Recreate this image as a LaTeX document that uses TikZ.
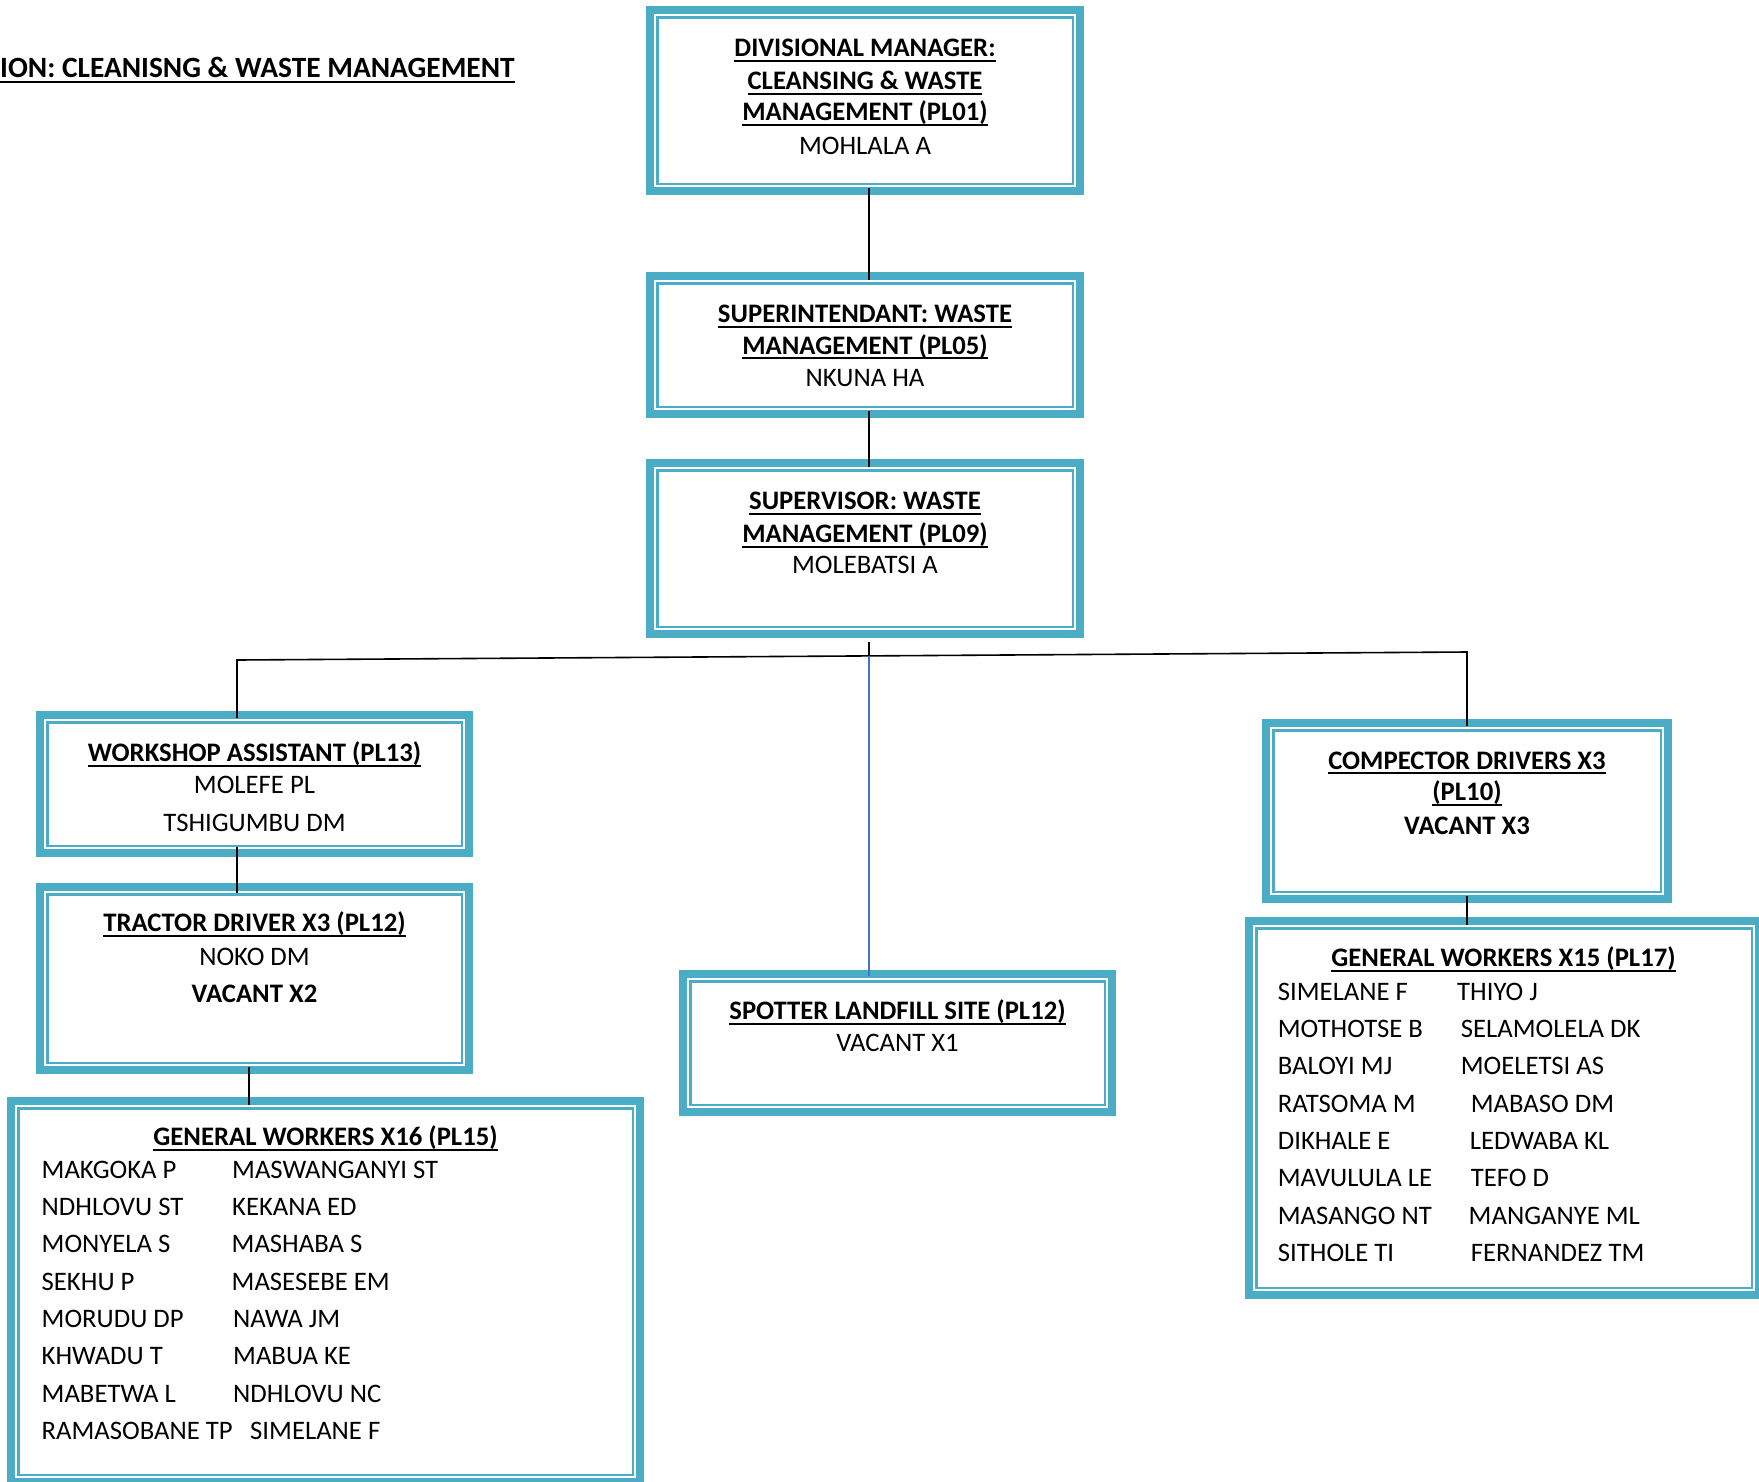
\documentclass[tikz,border=0pt]{standalone}
\usepackage{fontspec}
\setmainfont{Carlito}
\usetikzlibrary{calc}
\definecolor{teal5}{HTML}{4BACC6}
\definecolor{linkblue}{HTML}{4472C4}
\newcommand\fs{\fontsize{26.7}{32}\selectfont}
\newcommand\fst{\fontsize{29.4}{35}\selectfont}
\newcommand\ulin[1]{\setbox0=\hbox{#1}\rlap{\rule[-5pt]{\wd0}{2pt}}\box0}
\newcommand\obox[5]{%
  \pgfmathsetmacro\ow{#4-#2-8}\pgfmathsetmacro\oh{#5-#3-8}%
  \node[outerbox, minimum width=\ow pt, minimum height=\oh pt, anchor=north west] (#1) at (#2+4,#3+4) {};
  \draw[innerline] ($(#1.north west)+(7.25,7.25)$) rectangle ($(#1.south east)+(-7.25,-7.25)$);
}
\begin{document}
\begin{tikzpicture}[x=1pt,y=-1pt,
  outerbox/.style={draw=teal5, line width=8pt, inner sep=0pt, outer sep=0pt},
  innerline/.style={draw=teal5, line width=2.5pt},
  conn/.style={draw=black, line width=1.6pt},
  blueconn/.style={draw=linkblue, line width=1.6pt},
  hd/.style={font=\fs\bfseries, anchor=base, inner sep=0pt},
  nm/.style={font=\fs, anchor=base, inner sep=0pt},
  bnm/.style={font=\fs\bfseries, anchor=base, inner sep=0pt},
  lst/.style={font=\fs, anchor=base west, inner sep=0pt}]
\useasboundingbox (0,0) rectangle (1759,1481);
\fill[white] (0,0) rectangle (1759,1481);

% title
\node[font=\fst\bfseries, anchor=base west, inner sep=0pt] (title) at (0,77.5) {\ulin{ION: CLEANISNG \& WASTE MANAGEMENT}};

% boxes
\obox{b1}{646}{6}{1084}{195}
\obox{b2}{646}{272}{1084}{418}
\obox{b3}{646}{459}{1084}{638}
\obox{ws}{36}{711}{473}{857}
\obox{td}{36}{883}{473}{1074}
\obox{cd}{1262}{719}{1672}{903}
\obox{sp}{679}{970}{1116}{1116}
\obox{gA}{7}{1097}{644}{1486}
\obox{gB}{1245}{917}{1763}{1299}

\begin{scope}[yshift=-1.5pt]
% box texts
\node[hd] (b1a) at (865,55) {\ulin{DIVISIONAL MANAGER:}};
\node[hd] (b1b) at (865,88) {\ulin{CLEANSING \& WASTE}};
\node[hd] (b1c) at (865,119) {\ulin{MANAGEMENT (PL01)}};
\node[nm] (b1d) at (865,153) {MOHLALA A};

\node[hd] (b2a) at (865,321) {\ulin{SUPERINTENDANT: WASTE}};
\node[hd] (b2b) at (865,352.5) {\ulin{MANAGEMENT (PL05)}};
\node[nm] (b2c) at (865,385) {NKUNA HA};

\node[hd] (b3a) at (865,508) {\ulin{SUPERVISOR: WASTE}};
\node[hd] (b3b) at (865,541) {\ulin{MANAGEMENT (PL09)}};
\node[nm] (b3c) at (865,572) {MOLEBATSI A};

\node[hd] (wsa) at (254.5,760) {\ulin{WORKSHOP ASSISTANT (PL13)}};
\node[nm] (wsb) at (254.5,792) {MOLEFE PL};
\node[nm] (wsc) at (254.5,830) {TSHIGUMBU DM};

\node[hd] (tda) at (254.5,930) {\ulin{TRACTOR DRIVER X3 (PL12)}};
\node[nm] (tdb) at (254.5,964) {NOKO DM};
\node[bnm] (tdc) at (254.5,1001) {VACANT X2};

\node[hd] (cda) at (1467,767.5) {\ulin{COMPECTOR DRIVERS X3}};
\node[hd] (cdb) at (1467,799) {\ulin{(PL10)}};
\node[bnm] (cdc) at (1467,832.5) {VACANT X3};

\node[hd] (spa) at (897.5,1018) {\ulin{SPOTTER LANDFILL SITE (PL12)}};
\node[nm] (spb) at (897.5,1050) {VACANT X1};

\node[hd] (gAh) at (325.5,1144) {\ulin{GENERAL WORKERS X16 (PL15)}};
\foreach \n/\yy/\a/\bx/\b in {
  1/1177/MAKGOKA P/232/MASWANGANYI ST,
  2/1214/NDHLOVU ST/232/KEKANA ED,
  3/1251/MONYELA S/231.5/MASHABA S,
  4/1289/SEKHU P/231.5/MASESEBE EM,
  5/1326/MORUDU DP/233/NAWA JM,
  6/1363/KHWADU T/233/MABUA KE,
  7/1401/MABETWA L/233/NDHLOVU NC,
  8/1438/RAMASOBANE TP/250/SIMELANE F}{
  \node[lst] (gAl\n) at (41.5,\yy) {\a};
  \node[lst] (gAr\n) at (\bx,\yy) {\b};
}

\node[hd] (gBh) at (1503.5,965) {\ulin{GENERAL WORKERS X15 (PL17)}};
\foreach \n/\yy/\a/\bx/\b in {
  1/998.5/SIMELANE F/1457/THIYO J,
  2/1035.6/MOTHOTSE B/1460.6/SELAMOLELA DK,
  3/1072.6/BALOYI MJ/1460.6/MOELETSI AS,
  4/1110.7/RATSOMA M/1470.7/MABASO DM,
  5/1147.7/DIKHALE E/1469.6/LEDWABA KL,
  6/1184.8/MAVULULA LE/1470.7/TEFO D,
  7/1222.9/MASANGO NT/1468.5/MANGANYE ML,
  8/1259.9/SITHOLE TI/1470.7/FERNANDEZ TM}{
  \node[lst] (gBl\n) at (1277.7,\yy) {\a};
  \node[lst] (gBr\n) at (\bx,\yy) {\b};
}
\end{scope}

% connectors
\coordinate (jl) at (237,660);
\coordinate (jr) at (1467,652);
\coordinate (jm) at (869,656);
\draw[conn] ($(b1.south)+(4,-3)$) -- ($(b2.north)+(4,4)$);
\draw[conn] ($(b2.south)+(4,-3)$) -- ($(b3.north)+(4,4)$);
\draw[conn] ($(b3.south -| jm)+(0,8)$) -- (jm);
\draw[conn] ($(ws.north -| jl)+(0,3)$) -- (jl) -- (jr) -- ($(cd.north -| jr)+(0,3)$);
\draw[blueconn] (jm) -- ($(sp.north -| jm)+(0,2)$);
\draw[conn] ($(ws.south -| jl)+(0,-6)$) -- ($(td.north -| jl)+(0,6)$);
\draw[conn] ($(td.south)+(-5.5,-3)$) -- ($(gA.north -| td.south)+(-5.5,4)$);
\draw[conn] ($(cd.south)+(0,-3)$) -- ($(gB.north -| cd.south)+(0,4)$);
\end{tikzpicture}
\end{document}
